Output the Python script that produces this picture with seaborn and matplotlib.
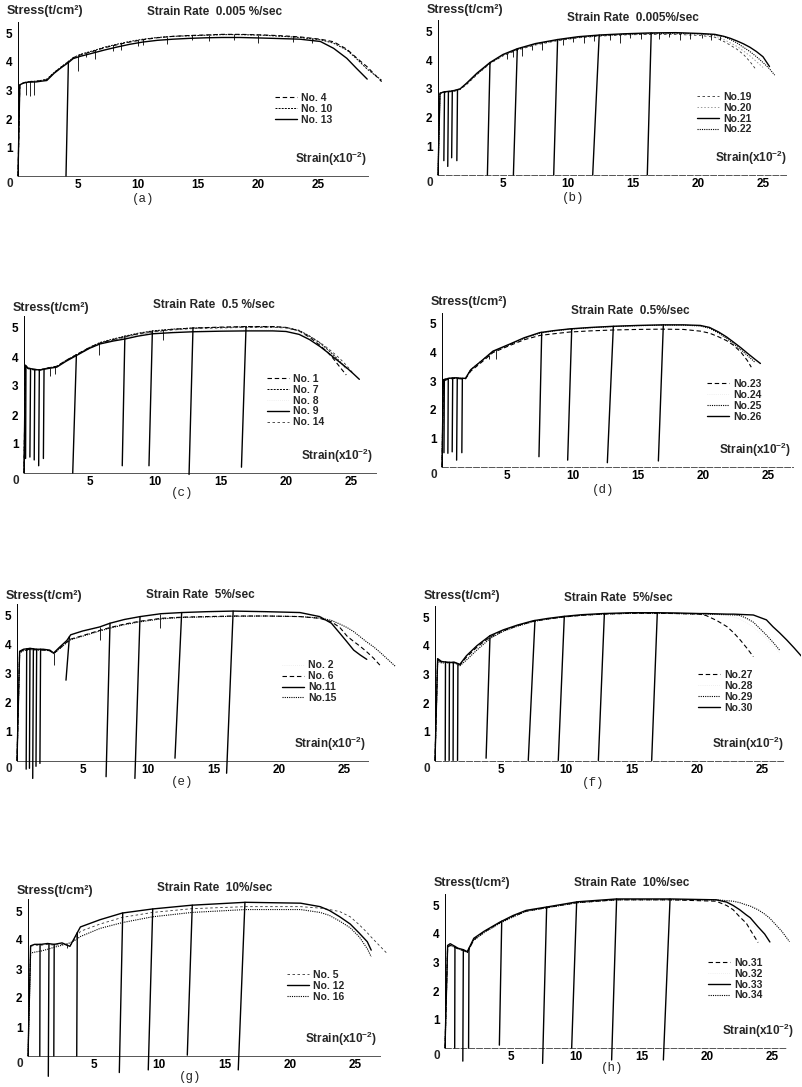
import numpy as np
import matplotlib
matplotlib.use("Agg")
import matplotlib.pyplot as plt
import seaborn as sns

nan = np.nan

# ---- (a) strain rate 0.005 %/sec ----
a_strain = [0, 0.15, 0.5, 1.0, 1.5, 2.0, 2.4, 3.0, 3.6, 4.2, 4.6, 5.2, 6.3, 7.2, 8.2, 9.3, 10.4, 11.6,
            12.9, 14.3, 15.7, 17.0, 18.5, 20.4, 22.0, 23.5, 25.2, 26.3, 27.4, 28.2, 29.1, 30.3]
a_no4 = [0, 3.2, 3.27, 3.3, 3.32, 3.35, 3.38, 3.62, 3.82, 4.0, 4.15, 4.25, 4.38, 4.5, 4.6, 4.7, 4.78, 4.85,
         4.9, 4.93, 4.95, 4.97, 4.97, 4.95, 4.92, 4.88, 4.8, 4.71, 4.45, 4.15, 3.83, 3.31]
a_no10 = [0, 3.2, 3.28, 3.32, 3.33, 3.36, 3.4, 3.63, 3.83, 4.02, 4.15, 4.27, 4.4, 4.52, 4.62, 4.72, 4.8, 4.86,
          4.9, 4.92, 4.94, 4.96, 4.96, 4.94, 4.9, 4.86, 4.78, 4.66, 4.42, 4.12, 3.75, 3.36]
a_no13 = [0, 3.2, 3.27, 3.3, 3.3, 3.33, 3.35, 3.6, 3.8, 3.98, 4.12, 4.2, 4.32, 4.42, 4.52, 4.62, 4.7, 4.76,
          4.8, 4.83, 4.85, 4.86, 4.86, 4.84, 4.82, 4.8, 4.72, 4.48, 4.13, 3.78, 3.4, nan]
a_unload_from = [4.2]
a_unload_res = [4.0]
a_unload_to = [0.0]
a_dip_at = [0.7, 1.0, 1.35, 4.97, 5.7, 6.4, 7.9, 8.6, 10.0, 10.4, 12.4, 14.5, 15.9, 18.0, 20.0, 22.9, 24.5]
a_dip_depth = [0.45, 0.5, 0.5, 0.55, 0.15, 0.3, 0.2, 0.25, 0.2, 0.2, 0.25, 0.15, 0.2, 0.2, 0.3, 0.2, 0.15]

# ---- (b) strain rate 0.005 %/sec ----
b_strain = [0, 0.15, 0.5, 1.0, 1.3, 1.7, 2.2, 3.0, 4.0, 5.0, 6.1, 7.5, 9.2, 10.8, 12.5, 14.3, 16.3, 18.3,
            20.2, 21.3, 22.0, 22.5, 23.0, 23.5, 24.0, 24.5, 25.0, 25.5, 25.9]
b_no19 = [0, 2.82, 2.88, 2.9, 2.92, 2.98, 3.15, 3.5, 3.88, 4.15, 4.35, 4.53, 4.68, 4.78, 4.84, 4.88, 4.9, 4.9,
          4.86, 4.8, 4.65, 4.52, 4.38, 4.2, 3.95, 3.65, nan, nan, nan]
b_no20 = [0, 2.85, 2.9, 2.92, 2.94, 3.0, 3.18, 3.52, 3.9, 4.18, 4.38, 4.56, 4.7, 4.8, 4.86, 4.9, 4.92, 4.92,
          4.9, 4.85, 4.72, 4.6, 4.48, 4.32, 4.15, 3.95, 3.75, nan, nan]
b_no21 = [0, 2.85, 2.9, 2.92, 2.95, 3.0, 3.2, 3.55, 3.92, 4.2, 4.4, 4.58, 4.72, 4.82, 4.88, 4.92, 4.95, 4.96,
          4.93, 4.9, 4.83, 4.76, 4.67, 4.57, 4.45, 4.3, 4.12, 3.78, nan]
b_no22 = [0, 2.85, 2.9, 2.92, 2.95, 3.0, 3.18, 3.52, 3.9, 4.18, 4.38, 4.56, 4.7, 4.8, 4.86, 4.9, 4.93, 4.94,
          4.92, 4.88, 4.82, 4.72, 4.6, 4.45, 4.3, 4.12, 3.92, 3.7, 3.48]
b_unload_from = [0.5, 0.8, 1.1, 1.5, 4.0, 6.1, 9.2, 12.4, 16.4]
b_unload_res = [0.45, 0.75, 1.05, 1.45, 3.8, 5.8, 8.9, 11.9, 16.1]
b_unload_to = [0.5, 0.3, 0.6, 0.5, 0, 0, 0, 0, 0]
b_dip_at = [5.3, 5.8, 6.5, 7.2, 8.0, 9.6, 10.4, 11.2, 12.0, 13.2, 14.0, 14.8, 15.6, 17.0, 17.8, 18.6,
            19.4, 20.3, 21.0, 21.7]
b_dip_depth = [0.2, 0.25, 0.3, 0.2, 0.25, 0.2, 0.15, 0.25, 0.2, 0.2, 0.3, 0.15, 0.2, 0.2, 0.15, 0.25,
               0.2, 0.15, 0.2, 0.15]

# ---- (c) strain rate 0.5 %/sec ----
c_strain = [0, 0.1, 0.3, 0.7, 1.2, 1.8, 2.5, 3.2, 4.0, 5.0, 5.8, 6.8, 7.7, 8.7, 9.8, 11.3, 12.9, 15.0,
            17.0, 19.0, 20.0, 21.0, 21.8, 22.6, 23.2, 23.6, 24.1, 24.6, 25.1, 25.6]
c_no1 = [0, 3.7, 3.6, 3.56, 3.55, 3.62, 3.68, 3.88, 4.08, 4.33, 4.48, 4.6, 4.7, 4.8, 4.88, 4.95, 5.0, 5.03,
         5.05, 5.05, 5.02, 4.9, 4.68, 4.4, 4.15, 3.95, 3.66, 3.38, nan, nan]
c_no7 = [0, 3.7, 3.62, 3.58, 3.56, 3.62, 3.68, 3.88, 4.08, 4.33, 4.5, 4.62, 4.72, 4.82, 4.9, 4.96, 5.0, 5.02,
         5.04, 5.04, 5.02, 4.92, 4.72, 4.48, 4.25, 4.08, 3.85, 3.6, nan, nan]
c_no8 = [0, 3.7, 3.62, 3.58, 3.56, 3.6, 3.66, 3.86, 4.06, 4.3, 4.46, 4.57, 4.65, 4.75, 4.83, 4.88, 4.92, 4.94,
         4.95, 4.95, 4.93, 4.84, 4.66, 4.43, 4.22, 4.06, 3.86, 3.66, 3.45, nan]
c_no9 = [0, 3.72, 3.62, 3.58, 3.55, 3.6, 3.65, 3.85, 4.05, 4.3, 4.45, 4.55, 4.62, 4.72, 4.8, 4.84, 4.87, 4.89,
         4.9, 4.9, 4.88, 4.78, 4.6, 4.36, 4.15, 4.0, 3.82, 3.64, 3.44, 3.23]
c_no14 = [0, 3.68, 3.6, 3.57, 3.56, 3.6, 3.66, 3.86, 4.06, 4.3, 4.46, 4.58, 4.68, 4.78, 4.86, 4.93, 4.98, 5.0,
          5.02, 5.02, 5.0, 4.9, 4.72, 4.5, 4.3, 4.15, 3.95, 3.72, 3.45, nan]
c_unload_from = [0.15, 0.5, 0.82, 1.17, 1.53, 4.0, 7.7, 9.8, 12.9, 16.95]
c_unload_res = [0.12, 0.45, 0.78, 1.12, 1.48, 3.72, 7.5, 9.54, 12.6, 16.6]
c_unload_to = [0.5, 0.55, 0.45, 0.25, 0.5, 0, 0.25, 0.25, -0.05, 0.2]
c_dip_at = [2.0, 2.4, 5.7, 10.6]
c_dip_depth = [0.3, 0.25, 0.4, 0.35]

# ---- (d) strain rate 0.5 %/sec ----
d_strain = [0, 0.1, 0.5, 1.0, 1.5, 1.8, 2.2, 3.0, 3.9, 5.2, 6.3, 7.5, 8.6, 9.8, 11.4, 13.1, 15.0, 16.9,
            18.5, 19.8, 20.5, 21.2, 21.8, 22.3, 22.9, 23.4, 23.7, 24.0, 24.4]
d_no23 = [0, 3.0, 3.08, 3.1, 3.08, 3.08, 3.35, 3.65, 4.0, 4.25, 4.45, 4.6, 4.66, 4.72, 4.76, 4.79, 4.81, 4.82,
          4.81, 4.75, 4.68, 4.55, 4.42, 4.27, 4.02, 3.72, 3.49, nan, nan]
d_no24 = [0, 3.05, 3.1, 3.12, 3.1, 3.1, 3.4, 3.7, 4.04, 4.29, 4.51, 4.69, 4.77, 4.83, 4.88, 4.92, 4.95, 4.97,
          4.97, 4.94, 4.87, 4.7, 4.52, 4.35, 4.14, 3.94, 3.82, 3.7, 3.58]
d_no25 = [0, 3.05, 3.1, 3.12, 3.1, 3.1, 3.4, 3.7, 4.03, 4.28, 4.5, 4.68, 4.76, 4.82, 4.87, 4.91, 4.94, 4.96,
          4.96, 4.93, 4.85, 4.68, 4.5, 4.32, 4.1, 3.9, 3.78, 3.65, nan]
d_no26 = [0, 3.05, 3.1, 3.12, 3.1, 3.1, 3.4, 3.7, 4.05, 4.3, 4.52, 4.7, 4.77, 4.83, 4.88, 4.92, 4.95, 4.97,
          4.97, 4.95, 4.88, 4.72, 4.55, 4.38, 4.17, 3.98, 3.87, 3.76, 3.62]
d_unload_from = [0.18, 0.48, 0.82, 1.17, 1.56, 7.64, 9.94, 13.13, 16.96]
d_unload_res = [0.15, 0.45, 0.78, 1.12, 1.52, 7.43, 9.63, 12.67, 16.58]
d_unload_to = [0.5, 0.48, 0.53, 0.24, 0.5, 0.36, 0.24, 0.15, 0.21]
d_dip_at = [3.6, 4.1]
d_dip_depth = [0.15, 0.3]

# ---- (e) strain rate 5 %/sec ----
e_strain = [0, 0.2, 0.5, 1.0, 1.5, 2.0, 2.5, 2.8, 3.2, 3.8, 4.1, 5.0, 6.3, 7.1, 8.2, 9.4, 11.0, 12.6, 14.5,
            16.5, 19.0, 21.6, 23.1, 24.0, 24.65, 25.2, 25.7, 26.2, 26.7, 27.2, 27.7, 28.3, 28.9]
e_no2 = [0, 3.78, 3.85, 3.88, 3.85, 3.85, 3.82, 3.72, 3.9, 4.15, 4.33, 4.45, 4.6, 4.72, 4.85, 4.95, 5.05, 5.1,
         5.13, 5.15, 5.13, 5.1, 5.0, 4.85, 4.6, 4.35, 4.08, 3.85, 3.62, 3.4, nan, nan, nan]
e_no6 = [0, 3.75, 3.82, 3.85, 3.83, 3.82, 3.8, 3.7, 3.85, 4.1, 4.2, 4.32, 4.5, 4.6, 4.72, 4.82, 4.92, 4.96,
         4.98, 5.0, 5.0, 4.98, 4.92, 4.8, 4.6, 4.3, 4.12, 3.95, 3.76, 3.55, 3.3, nan, nan]
e_no11 = [0, 3.78, 3.85, 3.88, 3.85, 3.85, 3.82, 3.72, 3.9, 4.15, 4.35, 4.48, 4.62, 4.75, 4.88, 4.98, 5.08, 5.12,
          5.15, 5.17, 5.15, 5.12, 4.98, 4.75, 4.4, 4.1, 3.82, 3.65, 3.5, nan, nan, nan, nan]
e_no15 = [0, 3.72, 3.8, 3.84, 3.82, 3.82, 3.8, 3.7, 3.85, 4.08, 4.18, 4.3, 4.48, 4.58, 4.7, 4.8, 4.9, 4.95,
          4.97, 4.99, 5.0, 4.98, 4.93, 4.85, 4.72, 4.6, 4.46, 4.28, 4.1, 3.94, 3.75, 3.5, 3.25]
e_unload_from = [0.74, 0.99, 1.25, 1.5, 1.8, 4.0, 7.1, 9.39, 12.57, 16.5]
e_unload_res = [0.7, 0.95, 1.2, 1.45, 1.75, 3.74, 6.8, 9.0, 12.06, 16.0]
e_unload_to = [-0.3, -0.27, -0.62, -0.2, -0.1, 2.78, -0.56, -0.62, 0.08, -0.44]
e_dip_at = [2.8, 6.3, 10.9]
e_dip_depth = [0.4, 0.45, 0.5]

# ---- (f) strain rate 5 %/sec ----
f_strain = [0, 0.2, 0.5, 1.0, 1.5, 1.9, 2.4, 3.2, 4.2, 5.2, 6.3, 7.5, 8.6, 9.8, 11.2, 12.8, 15.0, 16.9, 18.5,
            20.2, 20.7, 21.5, 22.3, 22.8, 23.3, 23.8, 24.3, 25.3, 25.8, 26.3, 26.85, 27.4, 28.0]
f_no27 = [0, 3.5, 3.43, 3.42, 3.42, 3.33, 3.6, 3.95, 4.3, 4.52, 4.7, 4.85, 4.93, 5.0, 5.06, 5.1, 5.13, 5.13,
          5.12, 5.1, 5.05, 4.88, 4.66, 4.45, 4.2, 3.92, 3.62, nan, nan, nan, nan, nan, nan]
f_no28 = [0, 3.5, 3.43, 3.42, 3.42, 3.33, 3.6, 3.95, 4.3, 4.52, 4.7, 4.85, 4.94, 5.01, 5.07, 5.11, 5.14, 5.14,
          5.13, 5.11, 5.1, 5.08, 5.05, 5.0, 4.92, 4.8, 4.65, 4.25, 4.0, 3.75, nan, nan, nan]
f_no29 = [0, 3.45, 3.4, 3.4, 3.4, 3.3, 3.5, 3.85, 4.25, 4.5, 4.68, 4.84, 4.93, 5.0, 5.06, 5.1, 5.13, 5.13,
          5.12, 5.1, 5.1, 5.09, 5.08, 5.07, 5.05, 4.95, 4.82, 4.37, 4.12, 3.85, nan, nan, nan]
f_no30 = [0, 3.55, 3.45, 3.42, 3.42, 3.35, 3.65, 4.0, 4.35, 4.55, 4.72, 4.87, 4.95, 5.02, 5.08, 5.12, 5.15, 5.15,
          5.14, 5.12, 5.12, 5.11, 5.1, 5.1, 5.09, 5.08, 5.07, 4.9, 4.66, 4.45, 4.2, 3.93, 3.62]
f_unload_from = [0.8, 1.1, 1.4, 1.75, 4.2, 7.63, 9.87, 12.93, 16.97]
f_unload_res = [0.78, 1.08, 1.38, 1.72, 3.9, 7.12, 9.41, 12.47, 16.54]
f_unload_to = [0, 0, 0, 0, 0.08, 0, 0, 0, 0]
f_dip_at = []
f_dip_depth = []

# ---- (g) strain rate 10 %/sec ----
g_strain = [0, 0.2, 0.5, 1.0, 1.5, 2.0, 2.6, 3.2, 3.7, 4.0, 5.5, 7.2, 9.5, 12.5, 16.6, 20.8, 22.3, 23.0,
            23.8, 24.6, 25.3, 25.9, 26.2, 26.8, 27.4]
g_no5 = [0, 3.78, 3.82, 3.82, 3.85, 3.82, 3.85, 3.8, 4.1, 4.3, 4.55, 4.78, 4.95, 5.08, 5.15, 5.15, 5.1, 5.05,
         4.98, 4.8, 4.52, 4.25, 4.1, 3.82, 3.54]
g_no12 = [0, 3.8, 3.85, 3.85, 3.88, 3.85, 3.9, 3.78, 4.2, 4.45, 4.7, 4.93, 5.07, 5.2, 5.3, 5.27, 5.15, 5.02,
          4.8, 4.55, 4.23, 3.94, 3.65, nan, nan]
g_no16 = [0, 3.55, 3.58, 3.62, 3.68, 3.75, 3.82, 3.9, 4.02, 4.12, 4.4, 4.6, 4.8, 4.95, 5.05, 5.05, 4.95, 4.85,
          4.65, 4.42, 4.1, 3.7, 3.42, nan, nan]
g_unload_from = [0.92, 1.6, 2.0, 3.76, 7.23, 9.52, 12.54, 16.56]
g_unload_res = [0.9, 1.55, 1.97, 3.72, 6.97, 9.18, 12.16, 16.05]
g_unload_to = [0, -0.7, 0, 0, -0.57, -0.48, 0.03, -0.48]
g_dip_at = [3.0]
g_dip_depth = [0.15]

# ---- (h) strain rate 10 %/sec ----
h_strain = [0, 0.2, 0.4, 1.0, 1.4, 1.7, 2.2, 3.0, 4.2, 5.2, 6.2, 7.8, 10.1, 13.1, 17.2, 20.7, 21.5, 22.0,
            22.5, 23.0, 23.3, 23.9, 24.4, 24.8, 25.3, 25.7, 26.3]
h_no31 = [0, 3.55, 3.6, 3.48, 3.42, 3.35, 3.8, 4.08, 4.4, 4.62, 4.8, 4.93, 5.1, 5.2, 5.2, 5.15, 5.0, 4.85,
          4.6, 4.38, 4.15, 3.7, nan, nan, nan, nan, nan]
h_no32 = [0, 3.58, 3.62, 3.49, 3.44, 3.36, 3.8, 4.08, 4.4, 4.62, 4.8, 4.93, 5.1, 5.2, 5.2, 5.18, 5.08, 4.95,
          4.78, 4.58, 4.45, 4.1, 3.8, nan, nan, nan, nan]
h_no33 = [0, 3.6, 3.66, 3.5, 3.45, 3.38, 3.85, 4.1, 4.42, 4.65, 4.83, 4.95, 5.13, 5.23, 5.23, 5.2, 5.12, 5.0,
          4.85, 4.67, 4.57, 4.25, 4.0, 3.72, nan, nan, nan]
h_no34 = [0, 3.55, 3.6, 3.48, 3.42, 3.35, 3.78, 4.05, 4.38, 4.6, 4.8, 4.92, 5.1, 5.2, 5.2, 5.2, 5.17, 5.15,
          5.1, 5.02, 4.98, 4.85, 4.7, 4.55, 4.3, 4.1, 3.73]
h_unload_from = [0.76, 1.4, 1.83, 4.33, 7.76, 10.05, 13.1, 17.18]
h_unload_res = [0.74, 1.36, 1.8, 4.15, 7.45, 9.67, 12.72, 16.67]
h_unload_to = [0, -0.46, 0, 0.1, -0.54, 0, -0.42, -0.42]
h_dip_at = []
h_dip_depth = []

sns.set_theme(style="white")
plt.rcParams["font.family"] = ["Liberation Sans", "DejaVu Sans"]
plt.rcParams["font.weight"] = "bold"
plt.rcParams["mathtext.fontset"] = "custom"
plt.rcParams["mathtext.rm"] = "Liberation Sans:bold"
plt.rcParams["mathtext.default"] = "rm"

STYLES = {
    "solid": dict(linestyle="-", lw=1.0, color="black", zorder=4),
    "dash": dict(linestyle=(0, (4, 2.5)), lw=0.8, color="black", zorder=3),
    "thin": dict(linestyle=(0, (3, 3)), lw=0.6, color="#333333", zorder=3),
    "fine": dict(linestyle=(0, (2, 1.2)), lw=0.7, color="black", zorder=3),
    "dot": dict(linestyle=(0, (1, 1)), lw=0.8, color="black", zorder=3),
    "light": dict(linestyle=(0, (1.5, 2)), lw=0.7, color="#9a9a9a", zorder=2),
    "ghost": dict(linestyle=(0, (1, 2)), lw=0.5, color="#e2e2e2", zorder=1),
}

panels = [
    dict(tag="(a)", rate="Strain Rate  0.005 %/sec", strain=a_strain,
         curves=[("No. 4", a_no4, "dash"), ("No. 10", a_no10, "fine"), ("No. 13", a_no13, "solid")],
         unload=(a_unload_from, a_unload_res, a_unload_to), dips=(a_dip_at, a_dip_depth),
         ox=18, base=176, sx=12.0, sy=28.5, rate_dy=164, leg=(257, 77), lab=(125, -23), end=29.2, bls="-"),
    dict(tag="(b)", rate="Strain Rate  0.005%/sec", strain=b_strain,
         curves=[("No.19", b_no19, "thin"), ("No.20", b_no20, "light"), ("No.21", b_no21, "solid"),
                 ("No.22", b_no22, "dot")],
         unload=(b_unload_from, b_unload_res, b_unload_to), dips=(b_dip_at, b_dip_depth),
         ox=438, base=175, sx=13.0, sy=28.7, rate_dy=157, leg=(259, 77), lab=(135, -23), end=26.8,
         bls=(0, (6, 2))),
    dict(tag="(c)", rate="Strain Rate  0.5 %/sec", strain=c_strain,
         curves=[("No. 1", c_no1, "dash"), ("No. 7", c_no7, "fine"), ("No. 8", c_no8, "ghost"),
                 ("No. 9", c_no9, "solid"), ("No. 14", c_no14, "thin")],
         unload=(c_unload_from, c_unload_res, c_unload_to), dips=(c_dip_at, c_dip_depth),
         ox=24, base=473, sx=13.1, sy=29.0, rate_dy=168, leg=(243, 93), lab=(158, -20), end=26.9, bls="-"),
    dict(tag="(d)", rate="Strain Rate  0.5%/sec", strain=d_strain,
         curves=[("No.23", d_no23, "dash"), ("No.24", d_no24, "ghost"), ("No.25", d_no25, "dot"),
                 ("No.26", d_no26, "solid")],
         unload=(d_unload_from, d_unload_res, d_unload_to), dips=(d_dip_at, d_dip_depth),
         ox=442, base=467, sx=13.05, sy=28.6, rate_dy=156, leg=(265, 82), lab=(161, -23), end=26.9,
         bls=(0, (6, 2))),
    dict(tag="(e)", rate="Strain Rate  5%/sec", strain=e_strain,
         curves=[("No. 2", e_no2, "ghost"), ("No. 6", e_no6, "dash"), ("No.11", e_no11, "solid"),
                 ("No.15", e_no15, "dot")],
         unload=(e_unload_from, e_unload_res, e_unload_to), dips=(e_dip_at, e_dip_depth),
         ox=17, base=760.5, sx=13.1, sy=28.9, rate_dy=165, leg=(265, 94), lab=(165, -22), end=26.8, bls="-"),
    dict(tag="(f)", rate="Strain Rate  5%/sec", strain=f_strain,
         curves=[("No.27", f_no27, "dash"), ("No.28", f_no28, "ghost"), ("No.29", f_no29, "dot"),
                 ("No.30", f_no30, "solid")],
         unload=(f_unload_from, f_unload_res, f_unload_to), dips=(f_dip_at, f_dip_depth),
         ox=435, base=760.5, sx=13.1, sy=28.7, rate_dy=163, leg=(263, 84.5), lab=(158, -22), end=26.7,
         bls=(0, (6, 2))),
    dict(tag="(g)", rate="Strain Rate  10%/sec", strain=g_strain,
         curves=[("No. 5", g_no5, "thin"), ("No. 12", g_no12, "solid"), ("No. 16", g_no16, "dot")],
         unload=(g_unload_from, g_unload_res, g_unload_to), dips=(g_dip_at, g_dip_depth),
         ox=28, base=1056, sx=13.1, sy=29.0, rate_dy=168, leg=(259, 80), lab=(162, -21), end=26.9, bls="-"),
    dict(tag="(h)", rate="Strain Rate  10%/sec", strain=h_strain,
         curves=[("No.31", h_no31, "dash"), ("No.32", h_no32, "ghost"), ("No.33", h_no33, "solid"),
                 ("No.34", h_no34, "dot")],
         unload=(h_unload_from, h_unload_res, h_unload_to), dips=(h_dip_at, h_dip_depth),
         ox=445, base=1048, sx=13.1, sy=28.5, rate_dy=165, leg=(263, 84), lab=(167, -20), end=26.1,
         bls=(0, (6, 2))),
]

W, H = 803, 1087
fig = plt.figure(figsize=(W / 100, H / 100), dpi=100)

for p in panels:
    sx, sy, ox, base = p["sx"], p["sy"], p["ox"], p["base"]
    x0, x1 = -1.2, min(31.0, (801 - ox) / sx)
    y0, y1 = -1.0, 5.8
    ax = fig.add_axes([(ox + x0 * sx) / W, 1 - (base - y0 * sy) / H,
                       (x1 - x0) * sx / W, (y1 - y0) * sy / H])
    ax.set_facecolor("none")
    ax.set_xlim(x0, x1)
    ax.set_ylim(y0, y1)

    strain = np.array(p["strain"])
    envs = []
    for label, vals, sty in p["curves"]:
        vals = np.array(vals, dtype=float)
        ok = ~np.isnan(vals)
        envs.append((strain[ok], vals[ok]))
        sns.lineplot(x=strain[ok], y=vals[ok], ax=ax, estimator=None, sort=False, label=label, **STYLES[sty])

    def top_at(s):
        return max(np.interp(s, xs, ys) for xs, ys in envs)

    # unloading / reloading lines
    for s0, s1, lo in zip(*p["unload"]):
        ax.plot([s0, s1], [top_at(s0), lo], color="black", lw=1.0, zorder=5)
    # serrations
    for s, dep in zip(*p["dips"]):
        t = top_at(s)
        ax.vlines(s, t - dep, t, color="black", lw=0.6, zorder=5)

    # axes styling
    for side in ["top", "right"]:
        ax.spines[side].set_visible(False)
    ax.spines["left"].set_position(("data", 0))
    ax.spines["left"].set_bounds(0, 5.4)
    ax.spines["left"].set_linewidth(0.7)
    ax.spines["left"].set_color("black")
    ax.spines["bottom"].set_position(("data", 0))
    ax.spines["bottom"].set_bounds(0, p["end"])
    ax.spines["bottom"].set_linewidth(0.7)
    ax.spines["bottom"].set_color("#555555")
    ax.spines["bottom"].set_linestyle(p["bls"])
    ax.set_xticks([5, 10, 15, 20, 25])
    ax.set_yticks([1, 2, 3, 4, 5])
    ax.tick_params(axis="x", length=0, pad=2.5, labelsize=8.5, colors="black")
    ax.tick_params(axis="y", length=2, width=0.6, pad=2.0, labelsize=8.5, colors="black")
    ax.set_xlabel("")
    ax.set_ylabel("")
    ax.grid(False)

    ax.text(-8 / sx, -8 / sy, "0", ha="center", va="center", fontsize=8.5)
    ax.text(-11 / sx, 165 / sy, "Stress(t/cm²)", ha="left", va="center", fontsize=9)
    ax.text(129 / sx, p["rate_dy"] / sy, p["rate"], ha="left", va="center", fontsize=8.5)
    ax.text(349 / sx, 17 / sy, "Strain(x10$^{-2}$)", ha="right", va="center", fontsize=8.5)
    ax.text(p["lab"][0] / sx, p["lab"][1] / sy, p["tag"], ha="center", va="center",
            fontsize=9, family="Liberation Mono", weight="normal")

    lx, ly = p["leg"]
    ax.legend(loc="upper left", bbox_to_anchor=(lx / sx, (ly + 6) / sy), bbox_transform=ax.transData,
              frameon=False, handlelength=2.1, handletextpad=0.4, labelspacing=0.08,
              borderpad=0, borderaxespad=0, prop=dict(weight="bold", size=7.5))

fig.savefig("out.png", dpi=100, facecolor="white")
